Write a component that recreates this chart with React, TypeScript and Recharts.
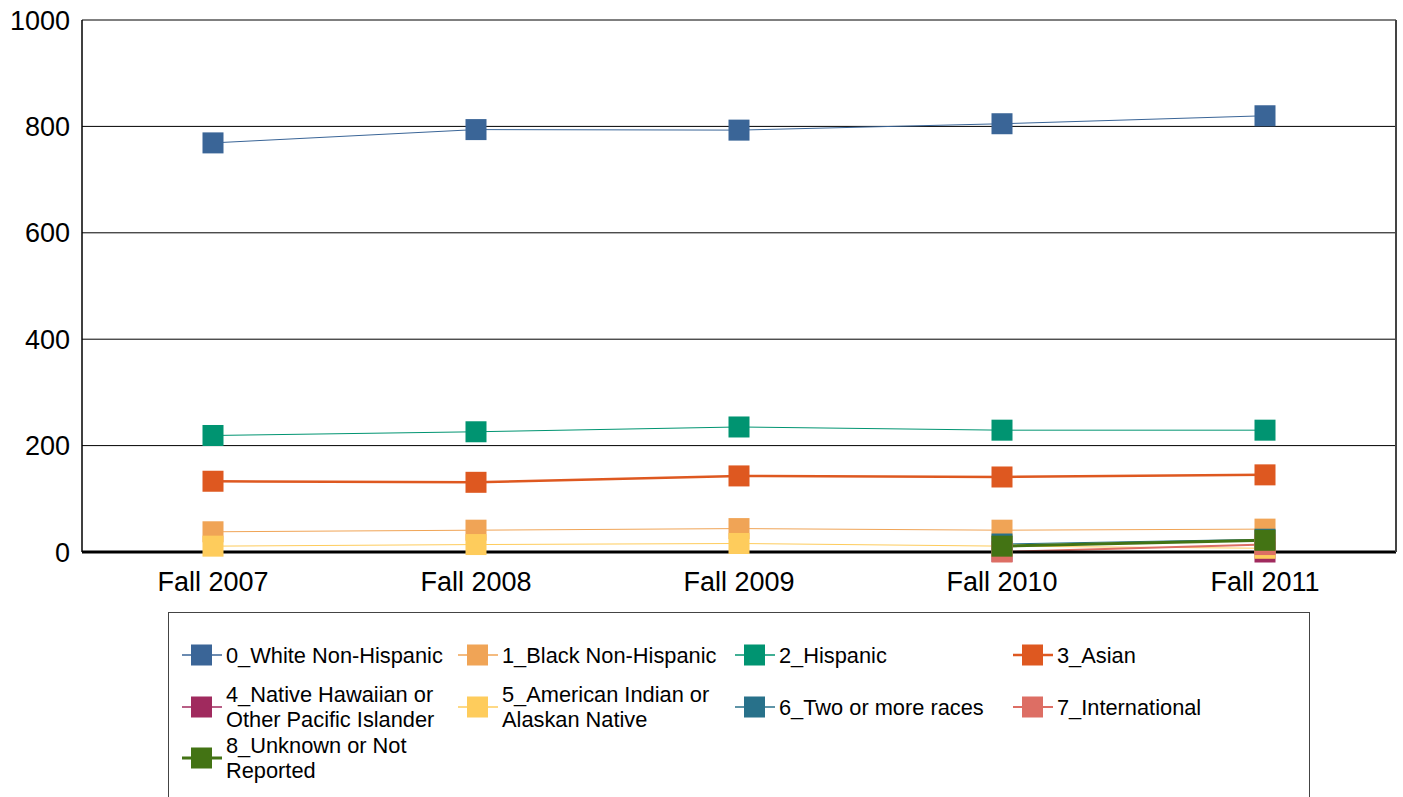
import { LineChart, Line, XAxis, YAxis, CartesianGrid } from 'recharts';

const terms = ['Fall 2007', 'Fall 2008', 'Fall 2009', 'Fall 2010', 'Fall 2011'];
const yTicks = [0, 200, 400, 600, 800, 1000];

const white = [769, 794, 793, 805, 820];
const black = [38, 41, 44, 41, 43];
const hispanic = [219, 226, 235, 229, 229];
const asian = [133, 131, 143, 141, 145];
const hawaiian = [null, null, null, 1, 0];
const amIndian = [11, 14, 16, 11, 7];
const twoOrMore = [null, null, null, 15, 24];
const international = [null, null, null, 0, 14];
const unknown = [null, null, null, 11, 22];

const series = [
  { key: 'white', name: ['0_White Non-Hispanic'], values: white, color: '#3A6597', width: 1 },
  { key: 'black', name: ['1_Black Non-Hispanic'], values: black, color: '#F0A456', width: 1 },
  { key: 'hispanic', name: ['2_Hispanic'], values: hispanic, color: '#009471', width: 1 },
  { key: 'asian', name: ['3_Asian'], values: asian, color: '#DE5820', width: 2.5 },
  { key: 'hawaiian', name: ['4_Native Hawaiian or', 'Other Pacific Islander'], values: hawaiian, color: '#A02A5E', width: 1 },
  { key: 'amIndian', name: ['5_American Indian or', 'Alaskan Native'], values: amIndian, color: '#FECC5C', width: 1 },
  { key: 'twoOrMore', name: ['6_Two or more races'], values: twoOrMore, color: '#28718A', width: 1 },
  { key: 'international', name: ['7_International'], values: international, color: '#DD6E64', width: 2 },
  { key: 'unknown', name: ['8_Unknown or Not', 'Reported'], values: unknown, color: '#437314', width: 3 },
];

const data = terms.map((t, i) => {
  const row: any = { term: t };
  series.forEach((s) => {
    row[s.key] = s.values[i];
  });
  return row;
});

const font = 'Arial, "Liberation Sans", sans-serif';

const squareDot = (color: string) => (props: any) => {
  const { cx, cy, index } = props;
  if (cx == null || cy == null || props.value == null) return <g key={index} />;
  return <rect key={index} x={cx - 10.5} y={cy - 10.5} width={21} height={21} fill={color} />;
};

// legend grid: column left edges, row centres
const legendCols = [182, 458, 735, 1013];
const legendRows = [655, 707, 758];

const App = () => {
  return (
    <div style={{ position: 'absolute', left: 0, top: 0, width: 1403, height: 797, background: '#fff', fontFamily: font, overflow: 'hidden' }}>
      <LineChart width={1403} height={797} data={data} margin={{ top: 20, right: 0, left: 0, bottom: 205 }}>
        <CartesianGrid yAxisId="l" vertical={false} stroke="#000" strokeWidth={1} />
        <XAxis
          dataKey="term"
          padding={{ left: 131, right: 131 }}
          tickLine={false}
          tickSize={0}
          tickMargin={20}
          axisLine={{ stroke: '#000', strokeWidth: 3 }}
          tick={{ fill: '#000', fontSize: 27, fontFamily: font }}
          height={40}
        />
        <YAxis
          yAxisId="l"
          domain={[0, 1000]}
          ticks={yTicks}
          width={82}
          tickLine={false}
          tickSize={0}
          tickMargin={12}
          axisLine={{ stroke: '#000', strokeWidth: 1.5 }}
          tick={{ fill: '#000', fontSize: 27, fontFamily: font }}
        />
        <YAxis
          yAxisId="r"
          orientation="right"
          domain={[0, 1000]}
          width={7}
          tick={false}
          tickLine={false}
          axisLine={{ stroke: '#444', strokeWidth: 2 }}
        />
        {series.map((s) => (
          <Line
            key={s.key}
            yAxisId="l"
            dataKey={s.key}
            stroke={s.color}
            strokeWidth={s.width}
            dot={squareDot(s.color)}
            activeDot={false}
            isAnimationActive={false}
            connectNulls={false}
          />
        ))}
      </LineChart>
      <div
        style={{
          position: 'absolute',
          left: 168,
          top: 612,
          width: 1142,
          height: 200,
          border: '1px solid #444',
          boxSizing: 'border-box',
        }}
      />
      {series.map((s, i) => {
        const x = legendCols[i % 4];
        const y = legendRows[Math.floor(i / 4)];
        return (
          <div key={s.key} style={{ position: 'absolute', left: x, top: y - 30, height: 60, display: 'flex', alignItems: 'center' }}>
            <svg width={42} height={22} style={{ flex: 'none' }}>
              <line x1={0} y1={11} x2={40} y2={11} stroke={s.color} strokeWidth={Math.max(1.5, s.width)} />
              <rect x={9} y={0.5} width={21} height={21} fill={s.color} />
            </svg>
            <div style={{ marginLeft: 2, fontSize: 21.8, lineHeight: '25px', color: '#000', whiteSpace: 'nowrap' }}>
              {s.name.map((n) => (
                <div key={n}>{n}</div>
              ))}
            </div>
          </div>
        );
      })}
    </div>
  );
};

export default App;
